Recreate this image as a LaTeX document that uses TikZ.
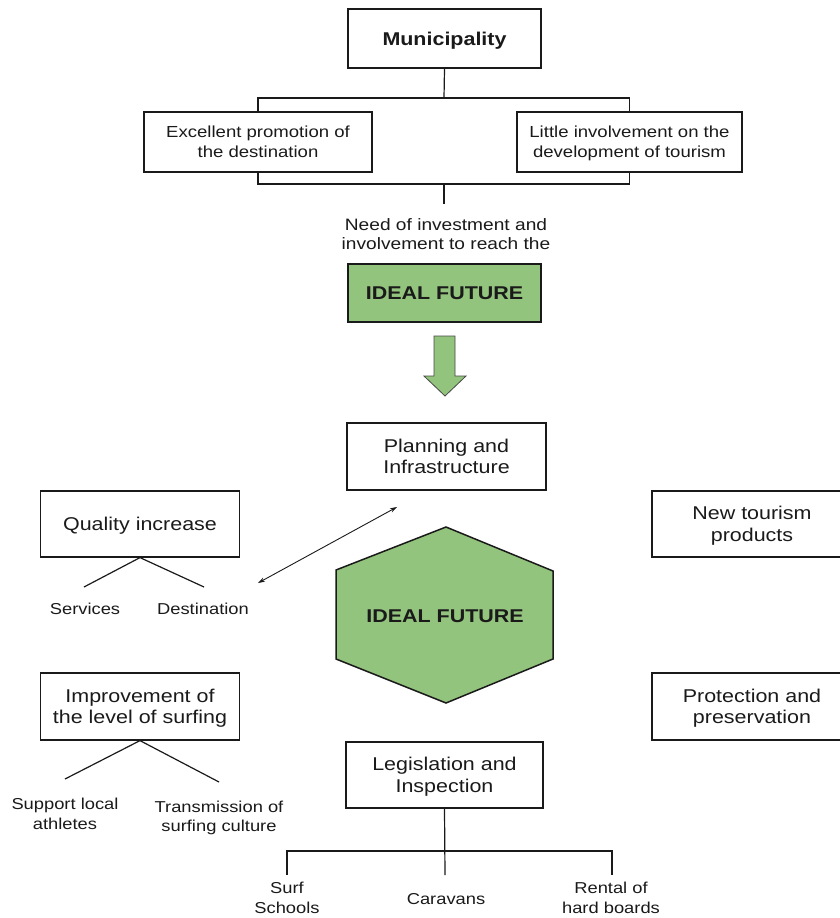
\documentclass[tikz,border=0pt]{standalone}
\usepackage{fontspec}
\setmainfont{Liberation Sans}[FakeStretch=1.16]
\usetikzlibrary{arrows.meta}

\definecolor{leaf}{HTML}{93C47D}
\definecolor{ink}{HTML}{1A1A1A}

\newcommand\fsBox{\fontsize{18.5}{21.5}\selectfont}
\newcommand\fsMid{\fontsize{16}{20}\selectfont}
\newcommand\fsNeed{\fontsize{16.5}{19.5}\selectfont}
\newcommand\fsLabel{\fontsize{15.8}{19.5}\selectfont}

\tikzset{
  box/.style={draw=ink, line width=1.2pt, inner sep=0pt, align=center,
              text=ink, font=\fsBox, text depth=0pt},
  midbox/.style={box, font=\fsMid},
  goalbox/.style={box, fill=leaf, font=\fsBox\bfseries},
  lbl/.style={inner sep=0pt, align=center, text=ink, font=\fsLabel},
  conn/.style={draw=ink, line width=1.2pt},
  link/.style={draw=ink, line width=0.9pt,
               {Stealth[length=7pt,width=4.5pt]}-{Stealth[length=7pt,width=4.5pt]}},
  greenshape/.style={draw=ink, line width=1.5pt, fill=leaf, line join=miter},
}

\begin{document}
\begin{tikzpicture}[x=1pt,y=-1pt]
\useasboundingbox (0,0) rectangle (840,918);
\clip (0,0) rectangle (840,918);

% --- top: municipality and its two assessments
\node[box, font=\fsBox\bfseries, minimum width=193pt, minimum height=59pt]
  (muni) at (444.5,38.5) {Municipality};
\node[midbox, minimum width=228pt, minimum height=60pt] (promo) at (258,142)
  {Excellent promotion of\\the destination};
\node[midbox, minimum width=225pt, minimum height=60pt] (involve) at (629.5,142)
  {Little involvement on the\\development of tourism};

\coordinate (topbar) at (444,98);
\coordinate (lowbar) at (444,184);
\coordinate (stem) at (444,204);
\draw[conn] (muni.south) -- (topbar);
\draw[conn] (promo.north) -- (promo.north |- topbar) -- (involve.north |- topbar)
  -- (involve.north);
\draw[conn] (promo.south) -- (promo.south |- lowbar) -- (involve.south |- lowbar)
  -- (involve.south);
\draw[conn] (lowbar) -- (stem);

\node[lbl, font=\fsNeed] (need) at (446,234)
  {Need of investment and\\involvement to reach the};
\node[goalbox, minimum width=193pt, minimum height=58pt] (goal) at (444.5,293)
  {IDEAL FUTURE};

% --- block arrow down
\draw[draw=ink!80, line width=0.8pt, fill=leaf]
  (434,336) -- (455,336) -- (455,376) -- (466,376) -- (445,396)
  -- (424,376) -- (434,376) -- cycle;

% --- central hexagon with surrounding fields
\draw[greenshape] (446,527) -- (553,571) -- (553,659) -- (446,703)
  -- (336,659) -- (336,570) -- cycle;
\node[inner sep=0pt, text=ink, font=\fsBox\bfseries] (hub) at (445,616)
  {IDEAL FUTURE};

\node[box, minimum width=199pt, minimum height=67pt] (plan) at (446.5,456.5)
  {Planning and\\Infrastructure};
\node[box, minimum width=199pt, minimum height=66pt] (quality) at (140,524)
  {Quality increase};
\node[box, minimum width=200pt, minimum height=66pt] (newprod) at (752,524)
  {New tourism\\products};
\node[box, minimum width=199pt, minimum height=67pt] (improve) at (140,706.5)
  {Improvement of\\the level of surfing};
\node[box, minimum width=200pt, minimum height=67pt] (protect) at (752,706.5)
  {Protection and\\preservation};
\node[box, minimum width=197pt, minimum height=66pt] (legis) at (444.5,775)
  {Legislation and\\Inspection};

% --- two-way link between planning and quality
\coordinate (linkA) at (258,583);
\coordinate (linkB) at (397,507);
\draw[link] (linkA) -- (linkB);

% --- quality increase branches
\node[lbl] (services) at (85,609) {Services};
\node[lbl] (destination) at (203,609) {Destination};
\coordinate (qL) at (84,587);
\coordinate (qR) at (204,587);
\draw[conn] (qL) -- (quality.south) -- (qR);

% --- surfing level branches
\node[lbl] (support) at (65,814) {Support local\\athletes};
\node[lbl] (transmit) at (219,818) {Transmission of\\surfing culture};
\coordinate (iL) at (65,779);
\coordinate (iR) at (219,782);
\draw[conn] (iL) -- (improve.south) -- (iR);

% --- legislation tree
\node[lbl] (surf) at (287,898) {Surf\\Schools};
\node[lbl] (caravans) at (446,899) {Caravans};
\node[lbl] (rental) at (611,898) {Rental of\\hard boards};
\coordinate (lbar) at (445,851);
\coordinate (lmid) at (445,875);
\coordinate (lleft) at (287,851);
\coordinate (lright) at (612,851);
\draw[conn] (legis.south) -- (lmid);
\draw[conn] (lleft |- lmid) -- (lleft) -- (lright) -- (lright |- lmid);

\end{tikzpicture}
\end{document}
